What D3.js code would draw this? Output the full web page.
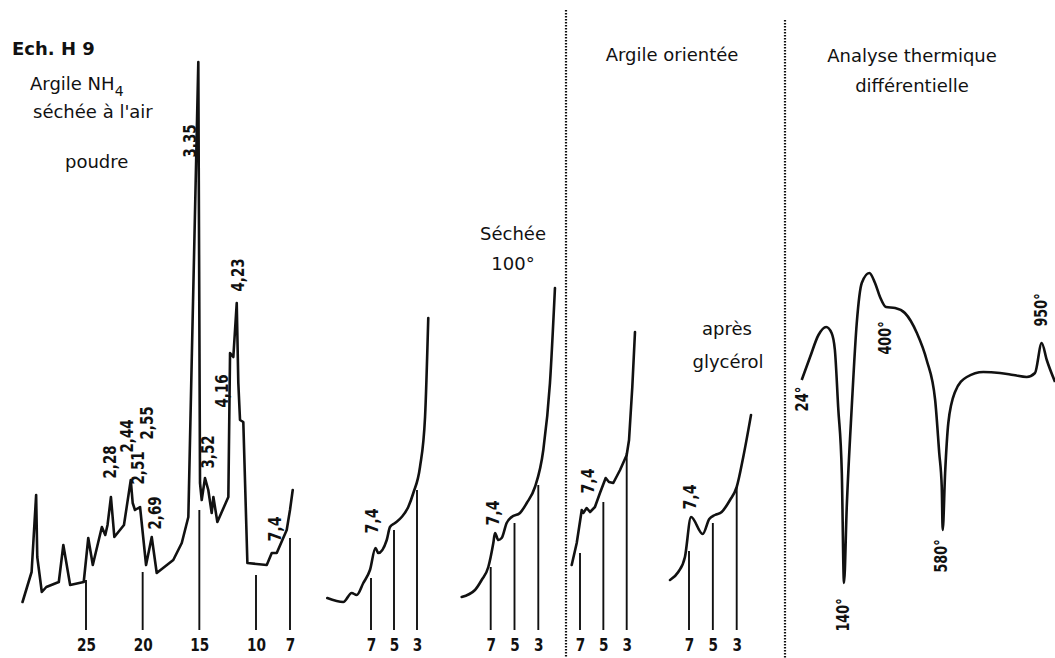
<!DOCTYPE html>
<html>
<head>
<meta charset="utf-8">
<script src="https://cdn.jsdelivr.net/npm/d3@7"></script>
<style>
body { margin: 0; background: #fff; }
svg { display: block; }
</style>
</head>
<body>
<div id="main"></div>
<script>
// --- powder, NH4 clay dried in air (2 theta in degrees, intensity) ---
var powderTheta = [30.6, 29.8, 29.4, 29.3, 28.9, 28.5, 27.4, 27.0, 26.4, 25.2, 24.8, 24.4, 23.6, 23.3, 23.1,
    22.8, 22.5, 21.65, 21.05, 20.88, 20.68, 20.23, 19.7, 19.2, 18.76, 17.3, 16.55, 15.97, 15.67, 15.09,
    14.94, 14.79, 14.5, 14.21, 13.91, 13.76, 13.41, 12.44, 12.29, 12.0, 11.7, 11.56, 11.41, 11.12, 10.76,
    9.05, 8.61, 8.17, 7.29, 7.0, 6.76];
var powderCount = [28, 58, 135, 73, 38, 43, 48, 85, 45, 48, 92, 65, 103, 95, 105,
    133, 93, 105, 150, 127, 120, 123, 65, 93, 57, 70, 87, 113, 270, 568,
    147, 130, 152, 140, 117, 133, 108, 133, 277, 273, 327, 247, 210, 208, 67,
    65, 77, 77, 100, 120, 140];
var powderTicks = [25, 20, 15, 10, 7];
var powderTickTop = [50, 58, 120, 55, 92];
var powderPeakText = ["3,35", "4,23", "4,16", "3,52", "2,28", "2,44", "2,51", "2,55", "2,69", "7,4"];
var powderPeakTheta = [15.82, 11.58, 13.0, 14.23, 22.88, 21.38, 20.41, 19.62, 18.91, 8.32];
var powderPeakLevel = [489, 355, 239, 178, 168, 194, 162, 207, 117, 101];

// --- oriented, air dried ---
var airTheta = [10.8, 9.41, 8.68, 8.24, 7.67, 7.09, 6.61, 6.37, 5.63, 5.35, 4.91, 4.33, 3.76, 3.32, 2.74, 2.3, 2.02];
var airCount = [32, 28, 37, 35, 47, 60, 82, 77, 90, 103, 107, 113, 123, 137, 163, 213, 312];
var airTickTop = [52, 100, 140];

// --- dried at 100 degrees ---
var heatTheta = [9.44, 8.32, 7.76, 7.2, 6.78, 6.64, 6.36, 6.08, 5.66, 5.24, 4.54, 3.97, 3.28, 2.58, 2.02, 1.6];
var heatCount = [33, 40, 50, 63, 87, 97, 90, 92, 107, 113, 117, 127, 143, 180, 247, 342];
var heatTickTop = [63, 107, 145];

// --- oriented clay ---
var orientTheta = [7.71, 7.28, 6.85, 6.72, 6.43, 6.14, 5.72, 5.29, 4.8, 4.52, 4.15, 3.57, 3.0, 2.8, 2.52, 2.29];
var orientCount = [65, 87, 120, 117, 122, 118, 123, 137, 152, 148, 147, 160, 175, 190, 243, 298];
var orientTickTop = [77, 128, 177];

// --- after glycerol ---
var glycTheta = [8.59, 7.9, 7.34, 6.83, 5.85, 5.3, 4.82, 4.26, 3.56, 3.0, 2.45, 1.8];
var glycCount = [50, 58, 73, 113, 96, 111, 115, 118, 130, 143, 173, 215];
var glycTickTop = [79, 107, 143];

var smallTicks = [7, 5, 3];
var smallPeakText = ["7,4"];
var airPeakTheta = [6.94], airPeakLevel = [109];
var heatPeakTheta = [6.81], heatPeakLevel = [117];
var orientPeakTheta = [6.29], orientPeakLevel = [149];
var glycPeakTheta = [6.92], glycPeakLevel = [133];

// --- differential thermal analysis (temperature in C, signal) ---
var dtaTemp = [24, 47, 70, 91, 106, 115, 124, 134, 140, 157, 188, 219, 250, 297, 332, 363, 400, 429,
    460, 498, 529, 556, 569, 577, 580, 589, 601, 626, 670, 732, 794, 844, 894, 925, 950, 969, 1000];
var dtaSignal = [250, 273, 295, 303, 297, 280, 223, 157, 47, 123, 223, 307, 347, 357, 347, 333, 323, 322,
    317, 297, 270, 230, 177, 143, 100, 157, 207, 238, 253, 258, 257, 255, 253, 257, 287, 270, 248];
var dtaMarks = [24, 140, 400, 580, 950];
var dtaLabelText = ["24°", "140°", "400°", "580°", "950°"];
var dtaLabelTemp = [24, 138, 396, 574, 948];
var dtaLabelLevel = [231, 15, 292, 74, 320];

var ink = "#111";
var font = "'DejaVu Sans', sans-serif";

var svg = d3.select("#main").append("svg")
    .attr("width", 1055)
    .attr("height", 658);

var y = d3.scaleLinear().domain([0, 630]).range([630, 0]);

function rotLabels(g, x, texts, xs, levels) {
    g.selectAll("text.peak")
        .data(texts)
        .enter().append("text")
        .attr("class", "peak")
        .attr("transform", function(d, i) { return "translate(" + x(xs[i]) + "," + y(levels[i]) + ") rotate(-90)"; })
        .attr("text-anchor", "middle")
        .attr("dominant-baseline", "central")
        .attr("font-family", font)
        .attr("font-weight", "bold")
        .attr("font-size", "17px")
        .attr("fill", ink)
        .attr("textLength", function(d) { return d.length * 8.3; })
        .attr("lengthAdjust", "spacingAndGlyphs")
        .text(function(d) { return d; });
}

var panels = [
    {theta: powderTheta, count: powderCount, ticks: powderTicks, top: powderTickTop, range: [86, 290],
        text: powderPeakText, pt: powderPeakTheta, pl: powderPeakLevel, curve: d3.curveLinear},
    {theta: airTheta, count: airCount, ticks: smallTicks, top: airTickTop, range: [371, 417],
        text: smallPeakText, pt: airPeakTheta, pl: airPeakLevel, curve: d3.curveMonotoneX},
    {theta: heatTheta, count: heatCount, ticks: smallTicks, top: heatTickTop, range: [490.7, 538.3],
        text: smallPeakText, pt: heatPeakTheta, pl: heatPeakLevel, curve: d3.curveMonotoneX},
    {theta: orientTheta, count: orientCount, ticks: smallTicks, top: orientTickTop, range: [580, 626.7],
        text: smallPeakText, pt: orientPeakTheta, pl: orientPeakLevel, curve: d3.curveLinear},
    {theta: glycTheta, count: glycCount, ticks: smallTicks, top: glycTickTop, range: [689, 736.7],
        text: smallPeakText, pt: glycPeakTheta, pl: glycPeakLevel, curve: d3.curveMonotoneX}
];

panels.forEach(function(p) {
    var x = d3.scaleLinear()
        .domain([p.ticks[0], p.ticks[p.ticks.length - 1]])
        .range(p.range);
    var g = svg.append("g");

    var line = d3.line()
        .x(function(d, i) { return x(p.theta[i]); })
        .y(function(d) { return y(d); })
        .curve(p.curve);

    g.append("path")
        .datum(p.count)
        .attr("fill", "none")
        .attr("stroke", ink)
        .attr("stroke-width", 2.6)
        .attr("stroke-linejoin", "round")
        .attr("stroke-linecap", "round")
        .attr("d", line);

    g.selectAll("line.mark")
        .data(p.ticks)
        .enter().append("line")
        .attr("class", "mark")
        .attr("x1", function(d) { return x(d); })
        .attr("x2", function(d) { return x(d); })
        .attr("y1", y(0))
        .attr("y2", function(d, i) { return y(p.top[i]); })
        .attr("stroke", ink)
        .attr("stroke-width", 1.9);

    var ax = g.append("g")
        .attr("transform", "translate(0,639)")
        .call(d3.axisBottom(x).tickValues(p.ticks).tickSize(0).tickPadding(0).tickFormat(d3.format("d")));
    ax.select(".domain").remove();
    ax.selectAll("text")
        .attr("font-family", font)
        .attr("font-weight", "bold")
        .attr("font-size", "17px")
        .attr("fill", ink)
        .attr("textLength", function() { return this.textContent.length * 9.5; })
        .attr("lengthAdjust", "spacingAndGlyphs");

    rotLabels(g, x, p.text, p.pt, p.pl);
});

// DTA panel
var xT = d3.scaleLinear().domain(dtaMarks).range([801.7, 844, 886, 942.7, 1041.7]);
var dta = svg.append("g");
dta.append("path")
    .datum(dtaSignal)
    .attr("fill", "none")
    .attr("stroke", ink)
    .attr("stroke-width", 2.6)
    .attr("stroke-linejoin", "round")
    .attr("d", d3.line()
        .x(function(d, i) { return xT(dtaTemp[i]); })
        .y(function(d) { return y(d); })
        .curve(d3.curveMonotoneX));
rotLabels(dta, xT, dtaLabelText, dtaLabelTemp, dtaLabelLevel);

// dotted separators
[[566, 10], [785, 20]].forEach(function(s) {
    svg.append("line")
        .attr("x1", s[0]).attr("x2", s[0])
        .attr("y1", s[1]).attr("y2", 658)
        .attr("stroke", ink)
        .attr("stroke-width", 2.2)
        .attr("stroke-dasharray", "1.6,1.4");
});

// headings
function label(x, yy, txt, anchor, weight) {
    return svg.append("text")
        .attr("x", x).attr("y", yy)
        .attr("text-anchor", anchor || "start")
        .attr("font-family", font)
        .attr("font-size", "18px")
        .attr("font-weight", weight || "normal")
        .attr("fill", ink)
        .text(txt);
}
label(12, 55, "Ech. H 9", "start", "bold");
var nh = label(30, 90, "Argile NH");
nh.append("tspan").attr("dy", 6).attr("font-size", "14px").text("4");
label(33, 118, "séchée à l'air");
label(65, 168, "poudre");
label(513, 240, "Séchée", "middle");
label(513, 270, "100°", "middle");
label(672, 61, "Argile orientée", "middle");
label(727, 335, "après", "middle");
label(728, 368, "glycérol", "middle");
label(912, 62, "Analyse thermique", "middle");
label(912, 92, "différentielle", "middle");
</script>
</body>
</html>
